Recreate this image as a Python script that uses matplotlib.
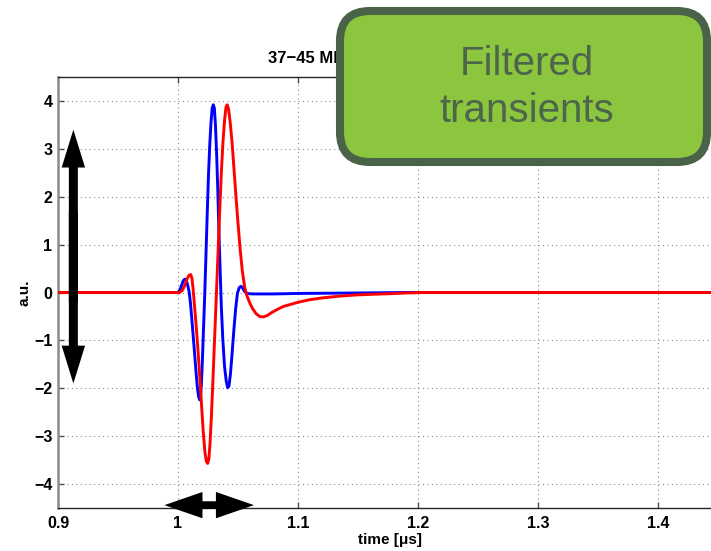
import matplotlib
matplotlib.use("Agg")
import matplotlib.pyplot as plt
from matplotlib.patches import FancyBboxPatch

plt.rcParams['font.family'] = ['Liberation Sans', 'DejaVu Sans']

# ---- data ----
blue_t = [0.900, 1.0000, 1.0015, 1.0030, 1.0045, 1.0058, 1.0070, 1.0082, 1.0094, 1.0105,
          1.0120, 1.0136, 1.0150, 1.0162, 1.0172, 1.0180, 1.0187, 1.0194, 1.0202, 1.0212,
          1.0222, 1.0232, 1.0243, 1.0254, 1.0265, 1.0275, 1.0285, 1.0294, 1.0303, 1.0312,
          1.0322, 1.0332, 1.0342, 1.0352, 1.0362, 1.0374, 1.0388, 1.0402, 1.0414, 1.0425,
          1.0437, 1.0450, 1.0465, 1.0480, 1.0495, 1.0510, 1.0525, 1.0540, 1.0555, 1.0575,
          1.0620, 1.0800, 1.1000, 1.1500, 1.1900, 1.4600]
blue_v = [0.0, 0.0, 0.05, 0.15, 0.25, 0.28, 0.25, 0.14, 0.0, -0.25,
          -0.7, -1.2, -1.65, -2.0, -2.18, -2.24, -2.2, -1.95, -1.5, -0.8,
          -0.1, 0.7, 1.6, 2.45, 3.1, 3.55, 3.85, 3.92, 3.85, 3.5,
          2.9, 2.1, 1.2, 0.4, -0.35, -1.0, -1.55, -1.85, -1.99, -1.95,
          -1.7, -1.3, -0.8, -0.35, -0.02, 0.1, 0.13, 0.09, 0.02, -0.02,
          -0.03, -0.03, -0.02, -0.01, 0.0, 0.0]

red_t = [0.900, 1.0015, 1.0035, 1.0055, 1.0075, 1.0092, 1.0106, 1.0116, 1.0125, 1.0135,
         1.0150, 1.0165, 1.0180, 1.0195, 1.0210, 1.0225, 1.0237, 1.0247, 1.0257, 1.0267,
         1.0278, 1.0290, 1.0302, 1.0314, 1.0326, 1.0338, 1.0350, 1.0362, 1.0375, 1.0388,
         1.0400, 1.0410, 1.0422, 1.0435, 1.0450, 1.0466, 1.0483, 1.0500, 1.0518, 1.0536,
         1.0555, 1.0572, 1.0595, 1.0620, 1.0650, 1.0680, 1.0711, 1.0745, 1.0780, 1.0830,
         1.0880, 1.0950, 1.1006, 1.1100, 1.1211, 1.1350, 1.1490, 1.1650, 1.1770, 1.1900,
         1.2050, 1.4600]
red_v = [0.0, 0.0, 0.04, 0.14, 0.28, 0.36, 0.375, 0.3, 0.1, -0.2,
         -0.65, -1.15, -1.7, -2.3, -2.9, -3.35, -3.53, -3.57, -3.48, -3.15,
         -2.6, -1.9, -1.15, -0.4, 0.35, 1.1, 1.85, 2.55, 3.15, 3.6,
         3.87, 3.92, 3.82, 3.55, 3.15, 2.6, 2.0, 1.45, 0.9, 0.45,
         0.12, -0.05, -0.2, -0.33, -0.44, -0.5, -0.51, -0.48, -0.42, -0.35,
         -0.29, -0.24, -0.2, -0.15, -0.11, -0.075, -0.05, -0.035, -0.025, -0.01,
         0.0, 0.0]

x_ticks = [0.9, 1.0, 1.1, 1.2, 1.3, 1.4]
x_ticklabels = ['0.9', '1', '1.1', '1.2', '1.3', '1.4']
y_ticks = [-4, -3, -2, -1, 0, 1, 2, 3, 4]
title_text = '37\u221245 MHz'
xlabel_text = 'time [\u03bcs]'
ylabel_text = 'a.u.'
box_text = ['Filtered', 'transients']

# ---- figure ----
W, H = 711, 551
fig = plt.figure(figsize=(W / 100, H / 100), dpi=100)
ax_left, ax_right, ax_top, ax_bot = 58, 722, 77, 508
ax = fig.add_axes([ax_left / W, 1 - ax_bot / H, (ax_right - ax_left) / W, (ax_bot - ax_top) / H])

ax.plot(blue_t, blue_v, color='#0000ff', lw=2.1, zorder=3, solid_joinstyle='round')
ax.plot(red_t, red_v, color='#ff0000', lw=2.1, zorder=4, solid_joinstyle='round')

ax.set_xlim(0.9, 0.9 + (ax_right - ax_left) / 1200)
ax.set_ylim(-4.5, 4.5)
ax.set_xticks(x_ticks)
ax.set_xticklabels(x_ticklabels)
ax.set_yticks(y_ticks)
ax.grid(True, color='0.55', linestyle=(0, (1, 3)), lw=0.8)
ax.tick_params(direction='in', length=4, width=1, color='0.3', top=True, right=True,
               labelsize=11.5)
ax.tick_params(axis='x', pad=6)
ax.tick_params(axis='y', pad=4)
for lab in ax.get_xticklabels() + ax.get_yticklabels():
    lab.set_fontweight('bold')
for s in ['top', 'bottom']:
    ax.spines[s].set_color('0.15')
    ax.spines[s].set_linewidth(1.0)
ax.spines['left'].set_color('0.55')
ax.spines['left'].set_linewidth(1.8)

ax.set_xlabel(xlabel_text, fontsize=11, fontweight='bold', labelpad=1)
ax.set_ylabel(ylabel_text, fontsize=11, fontweight='bold', labelpad=2)

# arrows (each pair overlaps in the middle so there is no seam)
ax.arrow(0.9128, -0.2, 0, 3.60, width=0.0075, head_width=0.0195, head_length=0.79,
         length_includes_head=True, color='black', lw=0, zorder=5, clip_on=False)
ax.arrow(0.9128, 1.7, 0, -3.60, width=0.0075, head_width=0.0195, head_length=0.79,
         length_includes_head=True, color='black', lw=0, zorder=5, clip_on=False)
ax.arrow(1.020, -4.44, 0.0433, 0, width=0.15, head_width=0.55, head_length=0.0317,
         length_includes_head=True, color='black', lw=0, zorder=5, clip_on=False)
ax.arrow(1.032, -4.44, -0.0433, 0, width=0.15, head_width=0.55, head_length=0.0317,
         length_includes_head=True, color='black', lw=0, zorder=5, clip_on=False)

# title (partly hidden by the box)
fig.text(268 / W, 1 - 63 / H, title_text, fontsize=12, fontweight='bold', ha='left',
         va='baseline', zorder=1)

# green box
bx0, bx1, by0, by1 = 340, 707, 11, 162
box = FancyBboxPatch(((bx0) / 100, (H - by1) / 100), (bx1 - bx0) / 100, (by1 - by0) / 100,
                     boxstyle='round,pad=0,rounding_size=0.3',
                     transform=fig.dpi_scale_trans, facecolor='#8cc63f',
                     edgecolor='#4a6248', lw=5.8, zorder=10)
fig.patches.append(box)
fig.text(527 / W, 1 - 64 / H, box_text[0], fontsize=29, color='#4d654b', ha='center',
         va='center', zorder=11)
fig.text(527 / W, 1 - 111 / H, box_text[1], fontsize=29, color='#4d654b', ha='center',
         va='center', zorder=11)

fig.savefig('out.png', dpi=100)
